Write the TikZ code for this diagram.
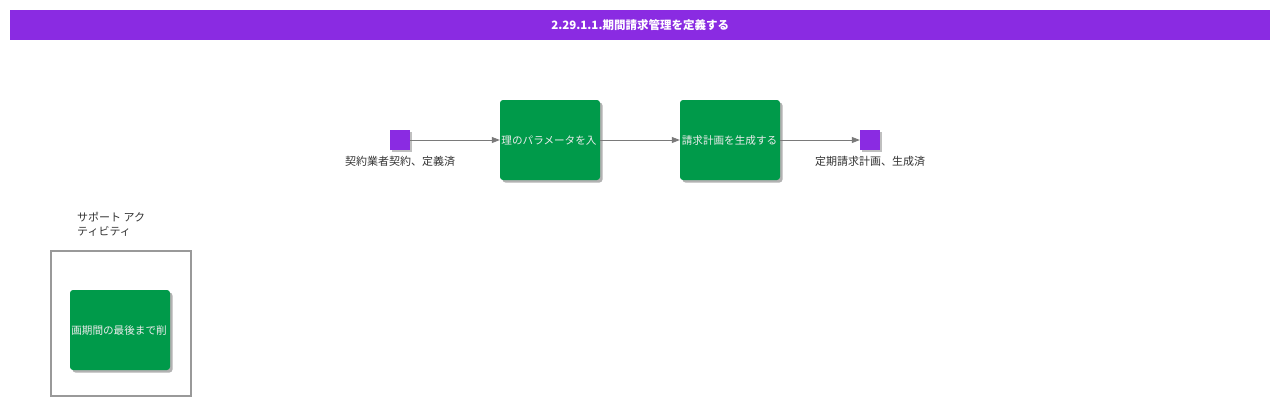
\documentclass[tikz,border=0pt]{standalone}
\usepackage{fontspec}
\setmainfont{Liberation Sans}
\newfontfamily\cjk{Noto Sans CJK JP}
\newfontfamily\cjklight{Noto Sans CJK JP Light}
\usetikzlibrary{shadows,arrows.meta}
\definecolor{violetbar}{HTML}{8A2BE2}
\definecolor{actgreen}{HTML}{009A4A}
\definecolor{linegray}{HTML}{7A7A7A}
\definecolor{txtgray}{HTML}{333333}
\begin{document}
\begin{tikzpicture}[x=1pt,y=-1pt,
  actbox/.style={fill=actgreen, rounded corners=3pt, minimum width=100pt, minimum height=80pt, inner sep=0pt,
    drop shadow={shadow xshift=2.5pt, shadow yshift=-2.5pt, opacity=0.3, fill=black}},
  acttext/.style={text=white!85!gray, font=\cjk\fontsize{10.6}{12}\selectfont, inner sep=0pt},
  evsq/.style={fill=violetbar, minimum width=20pt, minimum height=20pt, inner sep=0pt,
    drop shadow={shadow xshift=1.5pt, shadow yshift=-1.5pt, opacity=0.25, fill=black}},
  evlabel/.style={text=txtgray, font=\cjk\fontsize{11}{13}\selectfont, inner sep=0pt},
  flow/.style={draw=linegray, line width=0.8pt, -{Triangle[length=8pt,width=6pt]}}
]
\useasboundingbox (0,0) rectangle (1280,405);
\fill[white] (0,0) rectangle (1280,405);
% title bar
\node[fill=violetbar, minimum width=1260pt, minimum height=30pt, inner sep=0pt, anchor=north west] (title) at (10,10) {};
\node[text=white, font=\cjk\bfseries\fontsize{11.5}{13}\selectfont] (titletext) at (title.center) {2.29.1.1.期間請求管理を定義する};
% events and activities
\node[evsq] (start) at (400,140) {};
\node[evlabel] (startlbl) at (400,161.5) {契約業者契約、定義済};
\node[actbox] (a1) at (550,140) {};
\begin{scope}
\clip[rounded corners=3pt] (a1.south west) rectangle (a1.north east);
\node[acttext] (a1t) at (549,140.5) {理のパラメータを入};
\end{scope}
\node[actbox] (a2) at (730,140) {};
\node[acttext] (a2t) at (729.5,140.5) {請求計画を生成する};
\node[evsq] (end) at (870,140) {};
\node[evlabel] (endlbl) at (870,161.5) {定期請求計画、生成済};
\draw[flow] (start.east) -- (a1.west);
\draw[flow] (a1.east) -- (a2.west);
\draw[flow] (a2.east) -- (end.west);
% support activities
\node[evlabel, anchor=north west, align=left, font=\cjk\fontsize{11}{14}\selectfont] (suplbl) at (77,212) {サポート アク\\ティビティ};
\node[draw=gray!80, line width=1.6pt, minimum width=140pt, minimum height=145pt, inner sep=0pt, anchor=north west] (sup) at (50,250) {};
\node[actbox] (a3) at (120,330) {};
\begin{scope}
\clip[rounded corners=3pt] (a3.south west) rectangle (a3.north east);
\node[acttext] (a3t) at (119,330.5) {画期間の最後まで削};
\end{scope}
\end{tikzpicture}
\end{document}
